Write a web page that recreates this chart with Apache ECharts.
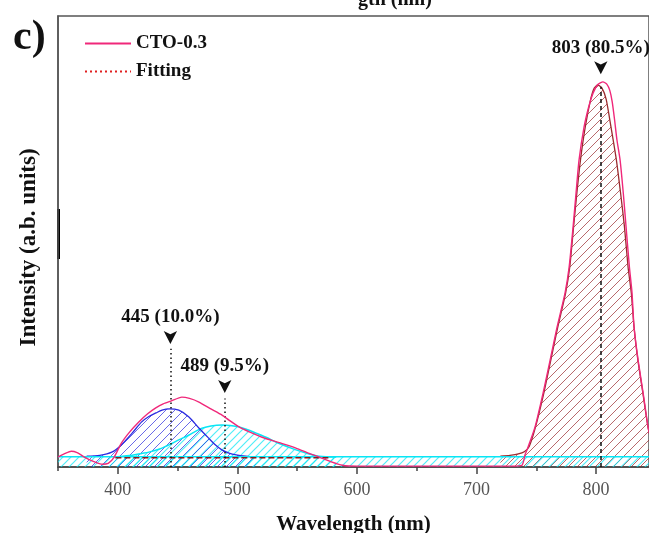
<!DOCTYPE html>
<html>
<head>
<meta charset="utf-8">
<script src="https://cdn.jsdelivr.net/npm/echarts@6/dist/echarts.min.js"></script>
<style>
  html, body { margin: 0; padding: 0; background: #fff; }
  #chart { width: 649px; height: 533px; }
</style>
</head>
<body>
<div id="chart"></div>
<script>
// measured spectrum (CTO-0.3), wavelength in nm / intensity in a.u.
const ctoNm = [350, 356, 361, 366, 372, 380, 387, 392, 397, 403, 410, 417.6, 425, 431.8, 438, 444.4, 453.6, 460, 467.9, 477, 487.2, 493, 501.4, 510, 520.7, 535, 549, 560, 568.5, 578, 588, 600, 650, 700, 730, 738.1, 740.6, 743.1, 749, 755.7, 761.6, 767.4, 774.1, 777.5, 780.8, 783.3, 785.8, 790, 794, 797.5, 801.5, 805.8, 809, 811.5, 813.5, 815.5, 817.5, 820.1, 822.8, 825.1, 827.9, 830.1, 831.8, 835.2, 839.4, 843.5, 846]
const ctoVal = [0.022, 0.030, 0.035, 0.032, 0.022, 0.012, 0.006, 0.008, 0.022, 0.053, 0.078, 0.100, 0.118, 0.131, 0.140, 0.146, 0.155, 0.152, 0.144, 0.130, 0.115, 0.104, 0.089, 0.078, 0.066, 0.054, 0.042, 0.030, 0.022, 0.012, 0.004, 0.002, 0.002, 0.002, 0.002, 0.004, 0.027, 0.044, 0.089, 0.164, 0.237, 0.310, 0.386, 0.443, 0.532, 0.608, 0.681, 0.754, 0.800, 0.829, 0.848, 0.854, 0.849, 0.835, 0.810, 0.770, 0.725, 0.681, 0.607, 0.533, 0.444, 0.386, 0.310, 0.237, 0.164, 0.089, 0.060]

// fitted components
const fit445Nm = [374, 385, 395, 403, 412, 420, 426, 432, 437, 443, 451, 459.5, 468, 476, 482, 487, 493, 499, 507, 515.7]
const fit445Val = [0.024, 0.026, 0.033, 0.049, 0.075, 0.100, 0.112, 0.120, 0.126, 0.129, 0.126, 0.111, 0.086, 0.064, 0.048, 0.038, 0.031, 0.027, 0.024, 0.022]

const fit489Nm = [400, 412, 420, 426, 435, 442.8, 451, 459.5, 465, 470.4, 478, 487.2, 494, 501.4, 508, 515.7, 524, 535, 549, 560, 568.5, 582.7]
const fit489Val = [0.023, 0.026, 0.030, 0.033, 0.040, 0.049, 0.060, 0.071, 0.079, 0.086, 0.091, 0.093, 0.092, 0.089, 0.083, 0.075, 0.066, 0.052, 0.038, 0.029, 0.024, 0.022]

const fit803Nm = [720, 728, 735, 740, 744, 749, 756, 762, 768, 774.5, 778, 781.2, 784, 787, 791, 795.5, 798.5, 801.5, 805, 808.5, 812.5, 817, 820.5, 823.8, 826.8, 829.5, 831.8, 835, 839.2, 843.4, 846]
const fit803Val = [0.024, 0.026, 0.029, 0.034, 0.045, 0.085, 0.160, 0.235, 0.310, 0.385, 0.443, 0.532, 0.608, 0.681, 0.754, 0.815, 0.840, 0.847, 0.840, 0.815, 0.754, 0.681, 0.608, 0.532, 0.443, 0.386, 0.310, 0.237, 0.164, 0.089, 0.060]

const baseNm = [350, 846]
const baseVal = [0.023, 0.023]
const baseFitNm = [398, 578]
const baseFitVal = [0.0205, 0.0205]

// peak annotations
const peakNm = [444, 489.5, 804]
const peakLabel = ['445 (10.0%)', '489 (9.5%)', '803 (80.5%)']
const arrowVal = [0.273, 0.164, 0.871]
const dropVal = [0.262, 0.152, 0.843]

const majorTicks = [400, 500, 600, 700, 800]
const minorTicks = [350, 450, 550, 650, 750]

const serif = "'Liberation Serif', 'Times New Roman', serif"

function zip(xs, ys) {
  return xs.map((x, i) => [x, ys[i]])
}

// diagonal hatch pattern "/"
function hatch(color, size, lw) {
  const c = document.createElement('canvas')
  c.width = size
  c.height = size
  const ctx = c.getContext('2d')
  ctx.strokeStyle = color
  ctx.lineWidth = lw
  ctx.beginPath()
  ctx.moveTo(-1, size + 1)
  ctx.lineTo(size + 1, -1)
  ctx.moveTo(-1, 1)
  ctx.lineTo(1, -1)
  ctx.moveTo(size - 1, size + 1)
  ctx.lineTo(size + 1, size - 1)
  ctx.stroke()
  return { image: c, repeat: 'repeat' }
}

const pink = '#f0287a'
const brown = '#9b2a2e'
const blue = '#2a2ae0'
const cyan = '#08e6f5'

const chart = echarts.init(document.getElementById('chart'))
chart.setOption({
  animation: false,
  title: {
    text: 'c)',
    left: 13,
    top: 17,
    padding: 0,
    textStyle: { fontFamily: serif, fontWeight: 'bold', fontSize: 42, color: '#111' },
  },
  legend: {
    orient: 'vertical',
    left: 84,
    top: 34,
    padding: 0,
    itemWidth: 46,
    itemHeight: 14,
    itemGap: 9,
    data: ['CTO-0.3', 'Fitting'],
    itemStyle: { color: 'transparent', borderColor: 'transparent', borderWidth: 0 },
    textStyle: { fontFamily: serif, fontWeight: 'bold', fontSize: 19, color: '#111' },
  },
  grid: {
    left: 58,
    right: 0,
    top: 16,
    bottom: 66,
    outerBoundsMode: 'none',
    containLabel: false,
    show: true,
    borderColor: '#555',
    borderWidth: 1.5,
  },
  xAxis: [
    {
      type: 'value',
      min: 350,
      max: 844.3,
      name: 'Wavelength (nm)',
      nameLocation: 'middle',
      nameGap: 47,
      nameTextStyle: { fontFamily: serif, fontWeight: 'bold', fontSize: 21, color: '#111' },
      axisLine: { show: true, lineStyle: { color: '#444', width: 1.5 } },
      axisTick: { show: true, customValues: majorTicks, length: 7, lineStyle: { color: '#444', width: 1.5 } },
      axisLabel: { customValues: majorTicks, margin: 14, fontFamily: serif, fontSize: 18, color: '#555' },
      splitLine: { show: false },
    },
    {
      type: 'value',
      min: 350,
      max: 844.3,
      position: 'bottom',
      axisLine: { show: false },
      axisTick: { show: true, customValues: minorTicks, length: 4, lineStyle: { color: '#444', width: 1.5 } },
      axisLabel: { show: false },
      splitLine: { show: false },
    },
  ],
  yAxis: {
    type: 'value',
    min: 0,
    max: 1,
    name: 'Intensity (a.b. units)',
    nameLocation: 'middle',
    nameGap: 17,
    nameTextStyle: { fontFamily: serif, fontWeight: 'bold', fontSize: 23, color: '#111', padding: [0, 12, 0, 0] },
    axisLine: { show: true, lineStyle: { color: '#555', width: 1.5 } },
    axisTick: { show: false },
    axisLabel: { show: false },
    splitLine: { show: false },
  },
  graphic: [
    // thick mark on the left frame
    { type: 'rect', shape: { x: 57, y: 209, width: 3, height: 50 }, style: { fill: '#000' } },
    // clipped title of the panel above
    {
      type: 'text',
      x: 358,
      y: 10,
      style: {
        text: 'gth (nm)',
        font: 'bold 20px ' + serif,
        fill: '#111',
        align: 'left',
        verticalAlign: 'bottom',
      },
    },
  ],
  series: [
    {
      name: 'fit 489',
      type: 'line',
      data: zip(fit489Nm, fit489Val),
      smooth: 0.3,
      showSymbol: false,
      lineStyle: { color: cyan, width: 1.5 },
      areaStyle: { color: hatch(cyan, 8, 1.2) },
    },
    {
      name: 'fit 445',
      type: 'line',
      data: zip(fit445Nm, fit445Val),
      smooth: 0.3,
      showSymbol: false,
      lineStyle: { color: blue, width: 1.3 },
      areaStyle: { color: hatch(blue, 9, 1) },
    },
    {
      name: 'fit 803',
      type: 'line',
      data: zip(fit803Nm, fit803Val),
      smooth: 0.2,
      showSymbol: false,
      lineStyle: { color: brown, width: 1.3 },
      areaStyle: { color: hatch(brown, 9, 1) },
    },
    {
      name: 'baseline',
      type: 'line',
      data: zip(baseNm, baseVal),
      showSymbol: false,
      lineStyle: { color: cyan, width: 1.5 },
      areaStyle: { color: hatch(cyan, 8, 1.2) },
    },
    {
      name: 'baseline fit',
      type: 'line',
      data: zip(baseFitNm, baseFitVal),
      showSymbol: false,
      lineStyle: { color: '#8b1a1a', width: 1.3, type: [6, 3] },
    },
    {
      name: 'Fitting',
      type: 'line',
      data: [],
      symbol: 'none',
      itemStyle: { color: '#e02020' },
      lineStyle: { color: '#e02020', width: 1.5, type: [2, 3] },
    },
    {
      name: 'CTO-0.3',
      type: 'line',
      data: zip(ctoNm, ctoVal),
      smooth: 0.2,
      symbol: 'none',
      lineStyle: { color: pink, width: 1.4 },
      itemStyle: { color: pink },
      z: 5,
      markLine: {
        silent: true,
        symbol: ['none', 'none'],
        label: { show: false },
        data: peakNm.map((x, i) => [
          {
            coord: [x, 0],
            lineStyle: { color: '#111', width: 1.5, type: i === 2 ? [4, 3] : [1.5, 3] },
          },
          { coord: [x, dropVal[i]] },
        ]),
      },
      markPoint: {
        silent: true,
        data: peakNm.map((x, i) => ({
          coord: [x, arrowVal[i]],
          symbol: 'arrow',
          symbolRotate: 180,
          symbolSize: [10, 13],
          itemStyle: { color: '#111' },
          label: {
            show: true,
            position: 'top',
            distance: 4,
            formatter: peakLabel[i],
            fontFamily: serif,
            fontWeight: 'bold',
            fontSize: 19,
            color: '#111',
          },
        })),
      },
    },
  ],
})
</script>
</body>
</html>
